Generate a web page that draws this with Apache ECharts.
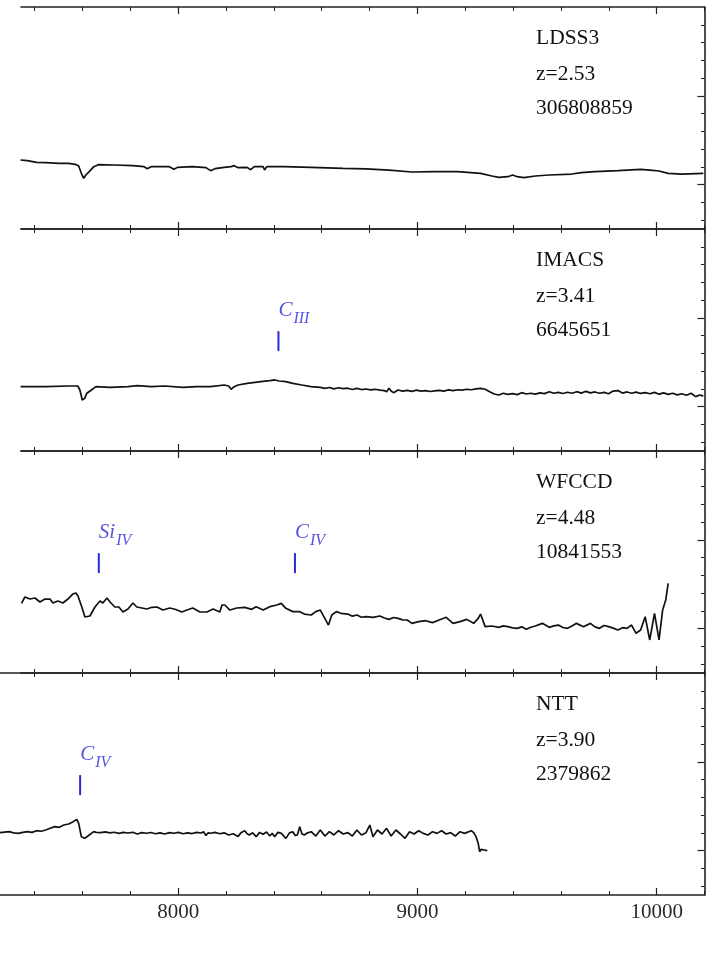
<!DOCTYPE html>
<html>
<head>
<meta charset="utf-8">
<script src="https://cdn.jsdelivr.net/npm/echarts@6.0.0/dist/echarts.min.js"></script>
<style>
  html, body { margin: 0; padding: 0; background: #ffffff; }
  #chart { width: 718px; height: 980px; }
</style>
</head>
<body>
<div id="chart"></div>
<script>
// Spectra: [observed wavelength (Å), normalised flux]
const ldss3 = [
  [7341,0.277],[7369,0.270],[7408,0.251],[7446,0.247],[7503,0.240],[7542,0.240],[7570,0.228],
  [7584,0.209],[7595,0.127],[7605,0.071],[7614,0.108],[7628,0.146],[7647,0.202],[7666,0.224],
  [7733,0.221],[7810,0.213],[7857,0.202],[7871,0.179],[7886,0.202],[7963,0.202],[7982,0.172],
  [7997,0.194],[8058,0.202],[8116,0.191],[8135,0.157],[8154,0.179],[8192,0.194],[8221,0.202],
  [8234,0.213],[8250,0.191],[8288,0.194],[8303,0.168],[8318,0.202],[8355,0.202],[8361,0.164],
  [8370,0.202],[8441,0.202],[8555,0.194],[8689,0.183],[8785,0.176],[8881,0.164],[8977,0.142],
  [9072,0.146],[9168,0.146],[9264,0.127],[9311,0.097],[9340,0.082],[9378,0.089],[9398,0.108],
  [9417,0.089],[9445,0.078],[9493,0.097],[9551,0.108],[9646,0.119],[9685,0.134],[9742,0.146],
  [9838,0.157],[9933,0.172],[9972,0.164],[10010,0.153],[10048,0.127],[10105,0.119],[10195,0.127]
];

const imacs = [
  [7341,0.225],[7446,0.225],[7542,0.232],[7580,0.232],[7589,0.187],[7599,0.074],[7609,0.093],
  [7618,0.150],[7637,0.187],[7656,0.225],[7714,0.217],[7790,0.225],[7829,0.236],[7886,0.225],
  [7943,0.232],[8020,0.217],[8077,0.225],[8135,0.225],[8192,0.243],[8211,0.232],[8221,0.195],
  [8230,0.217],[8250,0.243],[8288,0.262],[8345,0.281],[8383,0.292],[8403,0.300],[8422,0.288],
  [8450,0.281],[8479,0.262],[8517,0.243],[8555,0.225],[8594,0.217],[8613,0.205],[8632,0.215],
  [8651,0.200],[8670,0.212],[8690,0.202],[8709,0.207],[8728,0.193],[8747,0.205],[8766,0.192],
  [8785,0.198],[8804,0.188],[8823,0.195],[8843,0.185],[8862,0.180],[8871,0.168],[8881,0.206],
  [8890,0.176],[8900,0.157],[8919,0.187],[8938,0.175],[8957,0.183],[8977,0.172],[8996,0.185],
  [9015,0.175],[9034,0.180],[9053,0.170],[9072,0.178],[9091,0.182],[9110,0.175],[9130,0.188],
  [9149,0.180],[9168,0.190],[9187,0.185],[9206,0.195],[9225,0.190],[9245,0.200],[9264,0.206],
  [9283,0.195],[9302,0.168],[9321,0.142],[9340,0.131],[9359,0.150],[9378,0.138],[9398,0.146],
  [9417,0.135],[9436,0.157],[9455,0.142],[9474,0.150],[9493,0.140],[9512,0.155],[9531,0.146],
  [9551,0.168],[9570,0.150],[9589,0.160],[9608,0.148],[9627,0.162],[9646,0.150],[9666,0.168],
  [9685,0.152],[9704,0.172],[9723,0.155],[9742,0.165],[9761,0.150],[9780,0.160],[9799,0.145],
  [9818,0.175],[9838,0.180],[9857,0.152],[9876,0.165],[9895,0.150],[9914,0.163],[9933,0.148],
  [9952,0.158],[9972,0.145],[9991,0.160],[10010,0.140],[10029,0.155],[10048,0.138],[10067,0.150],
  [10086,0.132],[10105,0.145],[10125,0.128],[10144,0.150],[10163,0.112],[10180,0.130],[10195,0.120]
];

const wfccd = [
  [7345,0.285],[7359,0.356],[7380,0.333],[7401,0.345],[7422,0.300],[7443,0.333],[7464,0.333],
  [7476,0.288],[7497,0.311],[7518,0.288],[7539,0.333],[7560,0.390],[7572,0.401],[7581,0.367],
  [7597,0.243],[7610,0.131],[7631,0.142],[7652,0.243],[7673,0.311],[7685,0.288],[7702,0.345],
  [7715,0.300],[7735,0.243],[7752,0.243],[7769,0.187],[7790,0.221],[7811,0.288],[7827,0.243],
  [7848,0.232],[7869,0.221],[7890,0.240],[7911,0.243],[7936,0.209],[7965,0.232],[7990,0.215],
  [8015,0.187],[8036,0.209],[8061,0.232],[8091,0.187],[8120,0.187],[8146,0.221],[8174,0.187],
  [8183,0.266],[8195,0.266],[8216,0.209],[8245,0.232],[8278,0.239],[8307,0.217],[8326,0.247],
  [8355,0.209],[8383,0.247],[8412,0.266],[8431,0.284],[8450,0.228],[8479,0.191],[8508,0.191],
  [8527,0.164],[8556,0.153],[8575,0.191],[8594,0.209],[8613,0.115],[8628,0.040],[8642,0.153],
  [8661,0.191],[8680,0.172],[8709,0.164],[8728,0.140],[8747,0.153],[8766,0.128],[8785,0.134],
  [8814,0.127],[8843,0.142],[8862,0.120],[8881,0.104],[8900,0.125],[8919,0.115],[8938,0.098],
  [8957,0.097],[8977,0.059],[9005,0.078],[9034,0.089],[9063,0.067],[9091,0.097],[9120,0.127],
  [9149,0.059],[9178,0.078],[9206,0.104],[9235,0.059],[9254,0.115],[9264,0.164],[9283,0.022],
  [9311,0.029],[9340,0.014],[9359,0.030],[9378,0.022],[9398,0.008],[9417,0.003],[9436,0.020],
  [9455,-0.008],[9474,0.015],[9493,0.029],[9522,0.059],[9551,0.014],[9570,0.030],[9589,0.040],
  [9608,0.012],[9627,0.003],[9646,0.030],[9665,0.059],[9694,0.022],[9723,0.059],[9742,0.020],
  [9761,0.003],[9780,0.035],[9799,0.022],[9818,0.005],[9838,-0.016],[9857,0.010],[9876,0.003],
  [9895,0.040],[9914,-0.053],[9933,-0.016],[9952,0.134],[9971,-0.128],[9991,0.172],[10010,-0.128],
  [10025,0.209],[10038,0.322],[10048,0.510]
];

const ntt = [
  [7255,0.202],[7274,0.208],[7293,0.213],[7312,0.200],[7331,0.194],[7350,0.206],[7369,0.213],
  [7389,0.205],[7408,0.224],[7427,0.218],[7446,0.232],[7465,0.251],[7484,0.270],[7503,0.262],
  [7522,0.288],[7542,0.300],[7561,0.326],[7576,0.352],[7584,0.307],[7595,0.157],[7609,0.138],
  [7628,0.176],[7647,0.213],[7657,0.205],[7676,0.202],[7695,0.210],[7714,0.200],[7733,0.207],
  [7752,0.194],[7771,0.205],[7790,0.198],[7810,0.206],[7829,0.187],[7848,0.203],[7867,0.195],
  [7886,0.204],[7905,0.190],[7924,0.200],[7943,0.187],[7963,0.203],[7982,0.195],[8001,0.205],
  [8020,0.190],[8039,0.200],[8058,0.192],[8077,0.206],[8096,0.198],[8106,0.212],[8116,0.170],
  [8125,0.200],[8135,0.195],[8154,0.205],[8173,0.190],[8192,0.200],[8211,0.176],[8230,0.190],
  [8250,0.160],[8264,0.205],[8278,0.224],[8288,0.190],[8297,0.176],[8311,0.200],[8326,0.157],
  [8340,0.205],[8355,0.185],[8369,0.210],[8383,0.164],[8393,0.195],[8403,0.157],[8417,0.205],
  [8431,0.194],[8441,0.165],[8450,0.138],[8465,0.200],[8479,0.213],[8489,0.170],[8498,0.176],
  [8508,0.270],[8517,0.190],[8527,0.176],[8541,0.200],[8556,0.213],[8575,0.164],[8594,0.232],
  [8613,0.164],[8632,0.213],[8651,0.176],[8670,0.224],[8690,0.187],[8709,0.202],[8728,0.164],
  [8747,0.232],[8766,0.176],[8785,0.202],[8801,0.288],[8814,0.157],[8833,0.232],[8852,0.187],
  [8871,0.251],[8890,0.164],[8910,0.232],[8929,0.187],[8948,0.138],[8967,0.213],[8986,0.187],
  [9005,0.224],[9024,0.194],[9044,0.176],[9063,0.213],[9082,0.194],[9101,0.224],[9120,0.187],
  [9139,0.202],[9158,0.164],[9178,0.213],[9197,0.194],[9225,0.224],[9235,0.202],[9245,0.157],
  [9254,0.082],[9260,-0.012],[9267,0.014],[9279,0.007],[9292,-0.001]
];

const spectra = [ldss3, imacs, wfccd, ntt];
const instruments = ['LDSS3', 'IMACS', 'WFCCD', 'NTT'];
const redshiftLabels = ['z=2.53', 'z=3.41', 'z=4.48', 'z=3.90'];
const objectIds = ['306808859', '6645651', '10841553', '2379862'];

// Line identifications: observed wavelength, element, ionisation stage
const lineWave  = [[], [8419], [7668, 8488], [7590]];
const lineElem  = [[], ['C'], ['Si', 'C'], ['C']];
const lineStage = [[], ['III'], ['IV', 'IV'], ['IV']];

// Tick positions
const xMajorTicks = [8000, 9000, 10000];
const xMinorTicks = [7400, 7600, 7800, 8200, 8400, 8600, 8800, 9200, 9400, 9600, 9800, 10200];
const yMajorTicks = [0, 1];
const yMinorTicks = [-0.4, -0.2, 0.2, 0.4, 0.6, 0.8, 1.2, 1.4, 1.6, 1.8];

// ---- layout ----
const panelTop = [7, 229, 451, 673];
const panelHeight = 222;
const panelLeft = [21, 21, 21, 0];
const rightEdge = 704.5;
const pxPerAngstrom = 0.23922;
const xMax = 10200;
const yMin = -0.5, yMax = 2.0;
const markerSpan = [0.625, 0.85];
const markerLabelY = 1.07;

const ink = '#111111';
const frame = '#222222';
const blue = '#2a2ad6';
const serif = '"Liberation Serif", "DejaVu Serif", serif';

const grids = [], xAxes = [], yAxes = [], series = [], graphics = [];

for (let i = 0; i < 4; i++) {
  const left = panelLeft[i];
  const width = rightEdge - left;
  const xMin = xMax - width / pxPerAngstrom;
  grids.push({ left: left, top: panelTop[i], width: width, height: panelHeight });

  const xBase = {
    gridIndex: i, type: 'value', min: xMin, max: xMax,
    splitLine: { show: false }, axisLabel: { show: false }
  };
  const isBottomPanel = (i === 3);
  // bottom: frame line + major ticks (+ labels on the last panel)
  xAxes.push(Object.assign({}, xBase, {
    position: 'bottom',
    axisLine: { show: true, onZero: false, lineStyle: { color: frame, width: 1.6 } },
    axisTick: { show: true, inside: true, length: 7, customValues: xMajorTicks, lineStyle: { color: frame, width: 1.2 } },
    axisLabel: {
      show: isBottomPanel, customValues: xMajorTicks, margin: 7,
      formatter: (v) => String(v),
      fontFamily: serif, fontSize: 21, color: '#2a2a2a'
    }
  }));
  // bottom minor ticks
  xAxes.push(Object.assign({}, xBase, {
    position: 'bottom',
    axisLine: { show: false, onZero: false },
    axisTick: { show: true, inside: true, length: 4, customValues: xMinorTicks, lineStyle: { color: frame, width: 1 } }
  }));
  // top: frame line + ticks
  xAxes.push(Object.assign({}, xBase, {
    position: 'top',
    axisLine: { show: true, onZero: false, lineStyle: { color: frame, width: 1.6 } },
    axisTick: { show: true, inside: true, length: 7, customValues: xMajorTicks, lineStyle: { color: frame, width: 1.2 } }
  }));
  xAxes.push(Object.assign({}, xBase, {
    position: 'top',
    axisLine: { show: false, onZero: false },
    axisTick: { show: true, inside: true, length: 4, customValues: xMinorTicks, lineStyle: { color: frame, width: 1 } }
  }));

  const yBase = {
    gridIndex: i, type: 'value', min: yMin, max: yMax, position: 'right',
    splitLine: { show: false }, axisLabel: { show: false }
  };
  yAxes.push(Object.assign({}, yBase, {
    axisLine: { show: true, onZero: false, lineStyle: { color: frame, width: 1.6 } },
    axisTick: { show: true, inside: true, length: 3.5, customValues: yMinorTicks, lineStyle: { color: frame, width: 1 } }
  }));
  yAxes.push(Object.assign({}, yBase, {
    axisLine: { show: false, onZero: false },
    axisTick: { show: true, inside: true, length: 7, customValues: yMajorTicks, lineStyle: { color: frame, width: 1.2 } }
  }));

  // spectrum
  series.push({
    type: 'line', xAxisIndex: 4 * i, yAxisIndex: 2 * i,
    data: spectra[i], showSymbol: false, symbol: 'none', smooth: false,
    lineStyle: { color: ink, width: 1.7 }, clip: true, silent: true
  });

  // line identification markers and labels
  lineWave[i].forEach((w, k) => {
    series.push({
      type: 'line', xAxisIndex: 4 * i, yAxisIndex: 2 * i,
      data: [[w, markerSpan[0]], [w, markerSpan[1]]],
      showSymbol: false, symbol: 'none',
      lineStyle: { color: blue, width: 2 }, silent: true
    });
    series.push({
      type: 'scatter', xAxisIndex: 4 * i, yAxisIndex: 2 * i,
      data: [[w, markerLabelY]], symbolSize: 0, silent: true,
      label: {
        show: true, position: 'right', distance: 0,
        formatter: '{e|' + lineElem[i][k] + '}{s|' + lineStage[i][k] + '}',
        rich: {
          e: { fontFamily: serif, fontStyle: 'italic', fontSize: 21, color: blue, verticalAlign: 'top', lineHeight: 23, padding: [0, 1, 0, 0] },
          s: { fontFamily: serif, fontStyle: 'italic', fontSize: 16, color: blue, verticalAlign: 'top', lineHeight: 16, padding: [11, 0, 0, 0] }
        }
      }
    });
  });

  // panel annotations
  const texts = [instruments[i], redshiftLabels[i], objectIds[i]];
  const offsets = [31, 67, 101];
  texts.forEach((t, k) => {
    graphics.push({
      type: 'text', left: 536, top: panelTop[i] + offsets[k] - 11, silent: true,
      style: { text: t, font: '21.5px ' + serif, fill: ink }
    });
  });
}

const chart = echarts.init(document.getElementById('chart'), null, { renderer: 'canvas' });
chart.setOption({
  backgroundColor: '#ffffff',
  animation: false,
  grid: grids,
  xAxis: xAxes,
  yAxis: yAxes,
  series: series,
  graphic: graphics
});
</script>
</body>
</html>
